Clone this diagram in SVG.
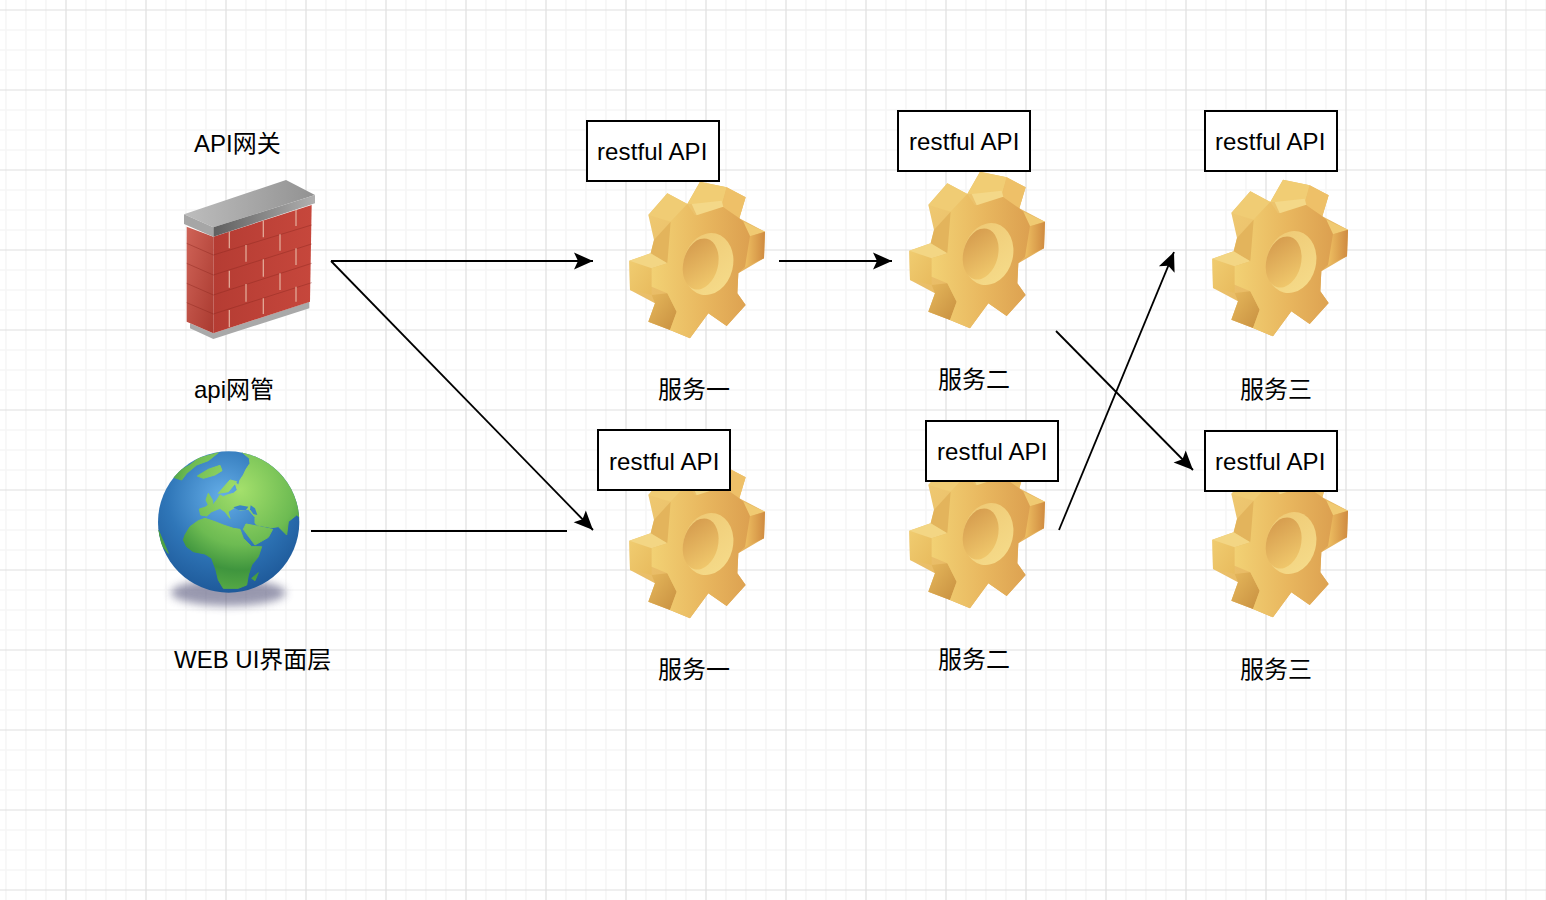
<svg xmlns="http://www.w3.org/2000/svg" xmlns:xlink="http://www.w3.org/1999/xlink" width="1546" height="900" viewBox="0 0 1546 900">
<style>
text{font-family:"Liberation Sans","Noto Sans CJK SC",sans-serif;font-size:24px;fill:#000}
.api{letter-spacing:.1px}
.box{fill:#fff;stroke:#000;stroke-width:2}
.conn{fill:none;stroke:#000;stroke-width:1.8}
.mortar{fill:none;stroke:#e2a594;stroke-width:4}
.mortar2{fill:none;stroke:#8e2a22;stroke-width:2.500;opacity:.55}
.land{fill:url(#land);stroke:url(#land);stroke-width:3;stroke-linejoin:round}
.water{fill:#3a84c6}
</style>
<defs>
<pattern id="grid" x="56" y="0" width="80" height="80" patternUnits="userSpaceOnUse">
<path d="M30 0V80M50 0V80M70 0V80M0 30H80M0 50H80M0 70H80" stroke="#f6f6f6" stroke-width="1.6" fill="none"/>
<path d="M10 0V80M0 10H80" stroke="#e0e0e0" stroke-width="1.2" fill="none"/>
</pattern>
<marker id="arrow" markerUnits="userSpaceOnUse" markerWidth="22" markerHeight="20" viewBox="0 0 22 20" refX="20" refY="10" orient="auto">
<path d="M20 10L1 1.500L5 10L1 18.500Z" fill="#000"/>
</marker>
<linearGradient id="gFront" x1="0" y1="0" x2="1" y2="0"><stop offset="0" stop-color="#f2d174"/><stop offset=".55" stop-color="#e8b65e"/><stop offset="1" stop-color="#dca050"/></linearGradient>
<linearGradient id="gBack" x1="0" y1="0" x2="1" y2="1"><stop offset="0" stop-color="#f2d078"/><stop offset="1" stop-color="#dfa653"/></linearGradient>
<linearGradient id="gSide" x1="0" y1="0" x2="1" y2="1"><stop offset="0" stop-color="#f0cc70"/><stop offset="1" stop-color="#e8bb5e"/></linearGradient>
<linearGradient id="gLow" x1="0" y1="0" x2="1" y2="1"><stop offset="0" stop-color="#e6b85c"/><stop offset="1" stop-color="#c89040"/></linearGradient>
<linearGradient id="gHole" x1="0" y1="0" x2=".7" y2="1"><stop offset="0" stop-color="#d2964a"/><stop offset="1" stop-color="#f0c86c"/></linearGradient>
<linearGradient id="gRim" x1="0" y1="0" x2="1" y2="1"><stop offset="0" stop-color="#eec873"/><stop offset="1" stop-color="#f6dd8c"/></linearGradient>
<linearGradient id="gRight" x1="0" y1="0" x2="1" y2="0"><stop offset="0" stop-color="#eebf62"/><stop offset="1" stop-color="#cf8a40"/></linearGradient>
<g id="gear">
<path d="M360 215L440 232L497 262L478 325L555 365L552 445L475 490L472 550L497 585L440 648L385 610L330 685L270 660L205 635L225 580L150 540L148 452L212 430L222 390L205 315L262 250L322 282Z" fill="url(#gBack)"/>
<path d="M222 390L272 335L290 375L262 460L212 430Z" fill="#e3b45c"/>
<path d="M225 580L215 555L262 550L290 605L270 660L205 635Z" fill="url(#gLow)"/>
<path d="M148 452L215 475L215 555L150 540Z" fill="url(#gSide)"/>
<path d="M148 452L212 430L262 460L215 475Z" fill="#f3d684"/>
<path d="M205 315L262 250L322 282L272 335Z" fill="#f0cc74"/>
<path d="M360 215L440 232L425 285L335 282L322 282Z" fill="#f1cd74"/>
<path d="M440 232L497 262L478 325L425 290Z" fill="#eec068"/>
<path d="M490 335L555 365L505 380Z" fill="#f0ca72"/>
<path d="M505 380L555 365L552 445L495 472Z" fill="url(#gRight)"/>
<path d="M272 335L322 282L345 316L425 288L478 325L490 335L510 378L495 470L475 490L472 550L497 585L440 648L385 610L330 685L270 660L290 605L262 550L215 530L215 475L262 460Z" fill="url(#gFront)"/>
<path d="M335 282L425 272L430 290L350 316Z" fill="#f4d888"/>
<ellipse cx="385" cy="462" rx="74" ry="94" transform="rotate(14 385 462)" fill="url(#gRim)"/>
<ellipse cx="362" cy="462" rx="52" ry="78" transform="rotate(14 362 462)" fill="url(#gHole)"/>
</g>
<linearGradient id="capTop" x1="0" y1="0" x2="1" y2="0"><stop offset="0" stop-color="#bdbdbd"/><stop offset="1" stop-color="#929292"/></linearGradient>
<linearGradient id="capFront" x1="0" y1="0" x2="1" y2="0"><stop offset="0" stop-color="#5f5f5f"/><stop offset="1" stop-color="#b0b0b0"/></linearGradient>
<linearGradient id="wallFront" x1="0" y1="0" x2="1" y2="0"><stop offset="0" stop-color="#b53c33"/><stop offset="1" stop-color="#c6473c"/></linearGradient>
<linearGradient id="wallLeft" x1="0" y1="0" x2="1" y2="1"><stop offset="0" stop-color="#cf6357"/><stop offset="1" stop-color="#aa3a30"/></linearGradient>
<radialGradient id="sea" cx=".46" cy=".32" r=".72"><stop offset="0" stop-color="#65aee8"/><stop offset=".55" stop-color="#2f76b8"/><stop offset="1" stop-color="#1c5696"/></radialGradient>
<radialGradient id="land" gradientUnits="userSpaceOnUse" cx="300" cy="180" r="300"><stop offset="0" stop-color="#a4e06c"/><stop offset=".55" stop-color="#6dbb52"/><stop offset=".8" stop-color="#3f953e"/><stop offset="1" stop-color="#55a845"/></radialGradient>
<filter id="blur" x="-30%" y="-80%" width="160%" height="260%"><feGaussianBlur stdDeviation="12"/></filter>
<clipPath id="earth"><circle cx="266" cy="276" r="212"/></clipPath>
</defs>
<rect width="1546" height="900" fill="#fff"/>
<rect width="1546" height="900" fill="url(#grid)"/>

<g id="gear-1-1"><use xlink:href="#gear" href="#gear" transform="translate(580 110) scale(.33333)"/></g>
<g id="gear-2-1"><use xlink:href="#gear" href="#gear" transform="translate(860 100) scale(.33333)"/></g>
<g id="gear-3-1"><use xlink:href="#gear" href="#gear" transform="translate(1163 108) scale(.33333)"/></g>
<g id="gear-1-2"><use xlink:href="#gear" href="#gear" transform="translate(580 390) scale(.33333)"/></g>
<g id="gear-2-2"><use xlink:href="#gear" href="#gear" transform="translate(860 380) scale(.33333)"/></g>
<g id="gear-3-2"><use xlink:href="#gear" href="#gear" transform="translate(1163 389) scale(.33333)"/></g>

<g id="firewall" transform="translate(150 120) scale(.33333)">
<path d="M120 610L190 640L478 545V565L190 657L120 625Z" fill="#a9a9a9"/>
<path d="M110 320L190 350V640L110 605Z" fill="url(#wallLeft)"/>
<path d="M190 350L485 255L480 545L190 640Z" fill="url(#wallFront)"/>
<path class="mortar2" d="M190 405L485 315M190 465L485 372M190 525L485 430M190 582L485 488M110 370L190 405M110 430L190 465M110 490L190 525M110 548L190 582"/>
<path class="mortar" d="M238 335V385M340 303V352M438 270V318M288 375V425M390 343V392M238 452V503M340 418V470M438 385V435M288 492V545M390 460V510M238 570V622M340 535V582M438 500V545"/>
<path d="M102 283L408 180L495 225L190 322Z" fill="url(#capTop)"/>
<path d="M190 322L495 225V250L190 350Z" fill="url(#capFront)"/>
<path d="M102 283L190 322V350L102 312Z" fill="#a6a6a6"/>
</g>

<g id="globe" transform="translate(140 430) scale(.33333)">
<ellipse cx="265" cy="488" rx="172" ry="40" fill="#55557a" opacity=".6" filter="url(#blur)"/>
<circle cx="266" cy="276" r="212" fill="url(#sea)"/>
<g clip-path="url(#earth)">
<path class="land" d="M305 66L328 85L330 100L318 118L310 135L300 150L296 165L285 158L292 180L280 190L262 195L250 200L240 195L232 208L218 226L218 212L205 190L198 210L205 225L195 232L178 237L182 255L200 258L215 245L240 235L255 245L270 265L264 245L285 232L300 240L325 238L345 262L345 280L350 285L395 293L415 290L440 315L445 275L470 255L480 262L500 200L440 130L380 80Z"/>
<path class="land" d="M135 315L150 290L175 272L195 265L225 275L250 285L280 295L300 298L310 325L335 350L365 350L355 380L335 405L325 435L320 465L295 475L250 475L235 450L228 420L215 385L195 372L160 365L140 350L130 330Z"/>
<path class="land" d="M310 298L345 345L385 322L398 298L350 288L318 282Z"/>
<path class="land" d="M235 190L270 150L290 155L265 185Z"/>
<path class="land" d="M172 138L205 118L240 106L246 122L225 135L190 145Z"/>
<path class="land" d="M100 142L118 122L150 105L175 85L235 68L205 92L170 105L140 130L125 150Z"/>
<path class="land" d="M335 445L355 428L345 452Z"/>
<path class="land" d="M55 300L85 370L65 345Z"/>
<path class="water" d="M332 226L345 235L352 255L340 252L330 238Z"/>
<path class="water" d="M280 232L300 226L325 230L318 240L295 240Z"/>
</g>
</g>

<g id="connectors">
<path class="conn" marker-end="url(#arrow)" d="M331 261H593"/>
<path class="conn" marker-end="url(#arrow)" d="M331 261L593 530"/>
<path class="conn" d="M311 531H567"/>
<path class="conn" marker-end="url(#arrow)" d="M779 261H892"/>
<path class="conn" marker-end="url(#arrow)" d="M1059 530L1174 252"/>
<path class="conn" marker-end="url(#arrow)" d="M1056 331L1193 470"/>
</g>

<g id="api-1-1"><rect class="box" x="587" y="121" width="132" height="60"/><text class="api" x="597" y="160">restful API</text></g>
<g id="api-2-1"><rect class="box" x="898" y="111" width="132" height="60"/><text class="api" x="909" y="150">restful API</text></g>
<g id="api-3-1"><rect class="box" x="1205" y="111" width="132" height="60"/><text class="api" x="1215" y="150">restful API</text></g>
<g id="api-1-2"><rect class="box" x="598" y="430" width="132" height="60"/><text class="api" x="609" y="470">restful API</text></g>
<g id="api-2-2"><rect class="box" x="926" y="421" width="132" height="60"/><text class="api" x="937" y="460">restful API</text></g>
<g id="api-3-2"><rect class="box" x="1205" y="431" width="132" height="60"/><text class="api" x="1215" y="470">restful API</text></g>

<g id="labels">
<text x="194" y="152">API网关</text>
<text x="194" y="398">api网管</text>
<text x="174" y="668">WEB UI界面层</text>
<text x="658" y="398">服务一</text>
<text x="938" y="388">服务二</text>
<text x="1240" y="398">服务三</text>
<text x="658" y="678">服务一</text>
<text x="938" y="668">服务二</text>
<text x="1240" y="678">服务三</text>
</g>
</svg>
